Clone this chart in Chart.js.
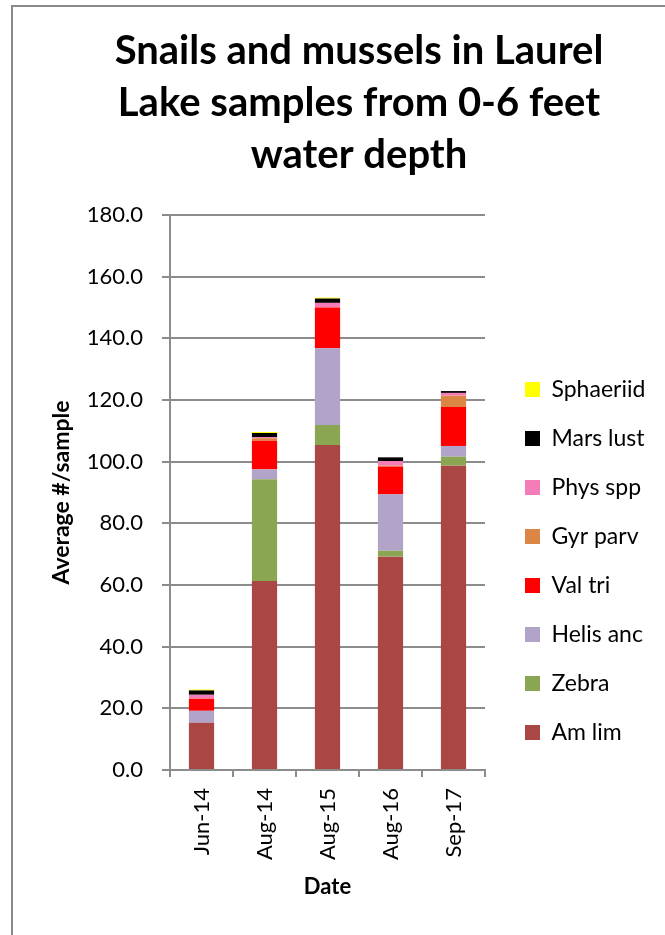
<!DOCTYPE html>
<html>
<head>
<meta charset="utf-8">
<script src="https://cdn.jsdelivr.net/npm/chart.js@4/dist/chart.umd.min.js"></script>
<style>
html,body{margin:0;padding:0;background:#fff;overflow:hidden;width:665px;height:935px;}
#frame{position:absolute;left:11px;top:5px;width:720px;height:1000px;border:2px solid #8a8a8a;box-sizing:border-box;}
#wrap{position:absolute;left:0;top:0;width:718px;height:935px;}
</style>
</head>
<body>
<div id="frame"></div>
<div id="wrap"><canvas id="c" width="718" height="935"></canvas></div>
<script>
// ---- data ----
const categories = ['Jun-14', 'Aug-14', 'Aug-15', 'Aug-16', 'Sep-17'];
const amLim     = [15.3, 61.3, 105.4, 69.2, 98.7];
const zebra     = [0.0, 33.0, 6.5, 1.9, 2.9];
const helisAnc  = [3.9, 3.2, 24.9, 18.3, 3.5];
const valTri    = [3.9, 9.3, 13.2, 9.0, 12.6];
const gyrParv   = [0.1, 0.8, 0.0, 0.3, 3.7];
const physSpp   = [1.2, 0.4, 1.5, 1.5, 0.9];
const marsLust  = [1.4, 1.3, 1.4, 1.2, 0.6];
const sphaeriid = [0.3, 0.3, 0.3, 0.0, 0.0];
const seriesNames = ['Am lim', 'Zebra', 'Helis anc', 'Val tri', 'Gyr parv', 'Phys spp', 'Mars lust', 'Sphaeriid'];
const seriesValues = [amLim, zebra, helisAnc, valTri, gyrParv, physSpp, marsLust, sphaeriid];
const yMin = 0, yMax = 180, yStep = 20;
const titleLines = ['Snails and mussels in Laurel', 'Lake samples from 0-6 feet', 'water depth'];
const yTitle = 'Average #/sample';
const xTitle = 'Date';

// ---- styles ----
const colors = ['#AA4745', '#8AA652', '#B2A3C8', '#FF0000', '#DB8645', '#F47DB9', '#000000', '#FFFF00'];
const gridColor = '#8c8c8c';
const FONT = 'Lato';

const datasets = seriesNames.map((name, i) => ({
  label: name,
  data: seriesValues[i],
  backgroundColor: colors[i],
  borderWidth: 0,
  categoryPercentage: 1.0,
  barPercentage: 0.4
}));

new Chart(document.getElementById('c'), {
  type: 'bar',
  data: { labels: categories, datasets },
  options: {
    responsive: false,
    animation: false,
    devicePixelRatio: 1,
    layout: { padding: 0 },
    plugins: {
      tooltip: { enabled: false },
      title: {
        display: true,
        text: titleLines,
        color: '#000',
        font: { family: FONT, size: 40, weight: 'bold', lineHeight: 52 / 40 },
        padding: { top: 25, bottom: 34 }
      },
      legend: {
        position: 'right',
        align: 'end',
        fullSize: false,
        reverse: true,
        maxWidth: 150,
        labels: {
          boxWidth: 15,
          boxHeight: 15,
          padding: 26,
          color: '#000',
          font: { family: FONT, size: 23 }
        }
      }
    },
    scales: {
      x: {
        stacked: true,
        grid: { offset: true, drawOnChartArea: false, drawTicks: true, tickLength: 7, color: gridColor, lineWidth: 2 },
        border: { display: true, color: gridColor, width: 2 },
        ticks: { minRotation: 90, maxRotation: 90, padding: 11, color: '#000', font: { family: FONT, size: 22 } },
        title: { display: true, text: xTitle, color: '#000', font: { family: FONT, size: 22, weight: 'bold' }, padding: { top: 0, bottom: 34.8 } },
        afterFit(s) { s.height = 165; }
      },
      y: {
        stacked: true,
        min: yMin,
        max: yMax,
        ticks: { stepSize: yStep, padding: 19, color: '#000', font: { family: FONT, size: 22 }, callback: v => Number(v).toFixed(1) },
        grid: { color: gridColor, lineWidth: 2, tickLength: 8, drawTicks: true },
        border: { display: true, color: gridColor, width: 2 },
        title: { display: true, text: yTitle, color: '#000', font: { family: FONT, size: 23, weight: 'bold' }, padding: { top: 48.2, bottom: 0 } },
        afterFit(s) { s.width = 170; }
      },
      gapR1: {
        position: 'right',
        display: true,
        grid: { display: false, drawTicks: false },
        border: { display: false },
        ticks: { display: false },
        afterFit(s) { s.width = 14; }
      },
      gapR2: {
        position: 'right',
        weight: 1100,
        display: true,
        grid: { display: false, drawTicks: false },
        border: { display: false },
        ticks: { display: false },
        afterFit(s) { s.width = 718 - 485 - 14 - 150; }
      }
    }
  }
});
</script>
</body>
</html>
